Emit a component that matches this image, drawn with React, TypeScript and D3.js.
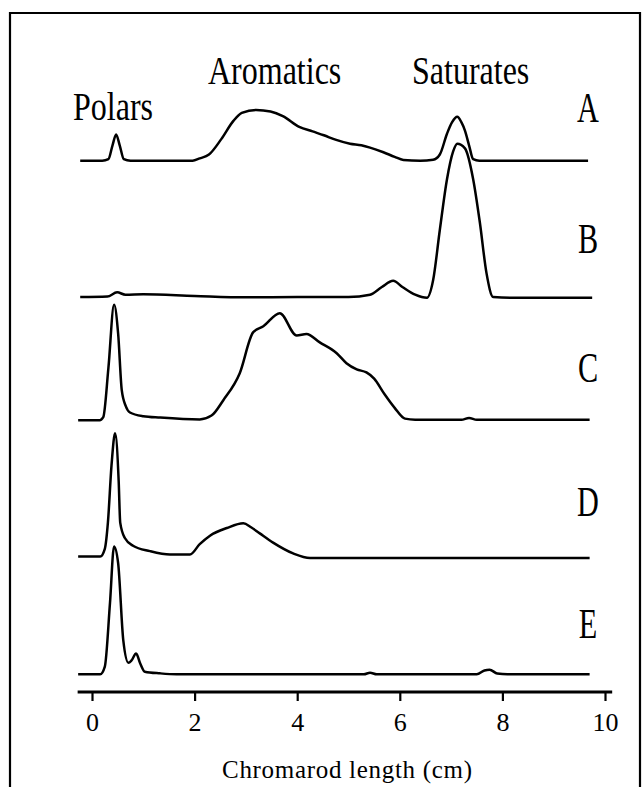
import React, { useEffect, useRef } from 'react';
import * as d3 from 'd3';

// chromarod position (cm), detector response (peak of B = 100)
const traceA: [number, number][] = [
  [-0.23, 0], [0.2, 0], [0.32, 1], [0.4, 10], [0.47, 17], [0.54, 10], [0.62, 1], [0.75, 0],
  [1.96, 0], [2.1, 1.5], [2.28, 4], [2.52, 14], [2.76, 26], [2.92, 31], [3.2, 33], [3.48, 32],
  [3.72, 29], [4.04, 22], [4.3, 19], [4.52, 16.5], [4.76, 13.5], [5.03, 11], [5.25, 10], [5.42, 8.5],
  [5.68, 5.5], [5.9, 2.5], [6.07, 0.5], [6.4, 0], [6.65, 0.6], [6.78, 4], [6.92, 17.5], [7.02, 25],
  [7.12, 28.5], [7.2, 25], [7.27, 19.5], [7.35, 10], [7.43, 1], [7.55, 0], [9.67, 0]
];
const traceB: [number, number][] = [
  [-0.23, 0.5], [0.3, 0.8], [0.49, 3.5], [0.65, 2], [1.0, 2.3], [2.0, 1.2], [3.0, 0.3], [4.0, 0.5],
  [5.0, 0.5], [5.42, 2], [5.65, 7], [5.87, 11], [6.05, 7], [6.3, 2], [6.53, 0], [6.65, 11.5],
  [6.78, 44], [6.92, 77], [7.04, 95], [7.12, 100], [7.27, 97], [7.43, 77], [7.56, 49], [7.69, 16],
  [7.82, 0.5], [8.2, 0], [9.75, 0]
];
const traceC: [number, number][] = [
  [-0.27, 0], [0.15, 0], [0.22, 2], [0.32, 34], [0.43, 75], [0.51, 56], [0.58, 19.5], [0.66, 9],
  [0.74, 5], [1.0, 2.6], [1.33, 1.7], [2.1, 0.5], [2.33, 3], [2.56, 13], [2.88, 30.5], [3.14, 57],
  [3.34, 61], [3.66, 69.5], [3.99, 55], [4.18, 56], [4.44, 50.5], [4.77, 43.5], [4.96, 37],
  [5.16, 33], [5.35, 31], [5.5, 27], [5.7, 17], [5.9, 8], [6.1, 1], [6.3, 0.3], [7.2, 0.3],
  [7.35, 1.5], [7.5, 0.3], [9.7, 0.3]
];
const traceD: [number, number][] = [
  [-0.27, 1], [0.16, 1], [0.25, 6], [0.31, 23], [0.38, 60], [0.45, 81], [0.52, 50], [0.55, 23],
  [0.64, 13], [0.8, 8], [1.13, 4.5], [1.52, 2.3], [1.91, 2.3], [2.1, 9], [2.3, 14.5], [2.63, 19.5],
  [2.95, 22.5], [3.1, 20], [3.27, 16], [3.53, 10], [3.92, 3], [4.25, 0], [9.7, 0]
];
const traceE: [number, number][] = [
  [-0.27, 0], [0.16, 0], [0.25, 5], [0.35, 46], [0.43, 83], [0.51, 72], [0.61, 22], [0.71, 7.5],
  [0.77, 9], [0.86, 13.5], [0.94, 7], [1.03, 1.7], [1.33, 0.6], [1.65, 0], [5.3, 0], [5.42, 1],
  [5.55, 0], [7.5, 0], [7.65, 2.5], [7.75, 3], [7.9, 0.5], [8.1, 0], [9.7, 0]
];

const sampleNames = ['A', 'B', 'C', 'D', 'E'];
const sampleOffsets = [345, 256, 176.5, 87, 11.5];
const traces = [traceA, traceB, traceC, traceD, traceE];
const fractionNames = ['Polars', 'Aromatics', 'Saturates'];
const tickValues = [0, 2, 4, 6, 8, 10];

const SERIF = "'Liberation Serif', 'Times New Roman', serif";

function Chromatogram() {
  const ref = useRef<SVGSVGElement>(null);

  useEffect(() => {
    const height = 787;
    const svg = d3.select(ref.current);
    svg.selectAll('*').remove();

    const x = d3.scaleLinear().domain([0, 10]).range([92, 605]);
    const y = d3.scaleLinear().domain([0, 400]).range([692, 76]);

    // frame
    svg.append('path')
      .attr('d', `M10,${height + 5} V13 H640 V${height + 5}`)
      .attr('fill', 'none')
      .attr('stroke', '#000')
      .attr('stroke-width', 2.2);

    const line = d3.line<[number, number]>()
      .x(d => x(d[0]))
      .curve(d3.curveMonotoneX);

    traces.forEach((t, i) => {
      svg.append('path')
        .datum(t)
        .attr('d', line.y(d => y(sampleOffsets[i] + d[1])))
        .attr('fill', 'none')
        .attr('stroke', '#000')
        .attr('stroke-width', 2.5)
        .attr('stroke-linejoin', 'round');
    });

    // sample letters
    const letterY = [122, 253, 382, 516, 638];
    sampleNames.forEach((n, i) => {
      svg.append('text')
        .attr('transform', `translate(588,${letterY[i]}) scale(0.72,1)`)
        .attr('text-anchor', 'middle')
        .attr('font-family', SERIF)
        .attr('font-size', 42)
        .text(n);
    });

    // fraction labels
    const labelX = [73, 208, 412];
    const labelY = [120, 84, 84];
    fractionNames.forEach((n, i) => {
      svg.append('text')
        .attr('transform', `translate(${labelX[i]},${labelY[i]}) scale(0.8,1)`)
        .attr('font-family', SERIF)
        .attr('font-size', 40)
        .text(n);
    });

    // axis
    const axis = svg.append('g')
      .attr('transform', 'translate(0,692)')
      .call(d3.axisBottom(x).tickValues(tickValues).tickSize(9).tickSizeOuter(0).tickPadding(12));
    axis.attr('font-family', SERIF).attr('font-size', 26);
    axis.select('.domain').remove();
    axis.selectAll('.tick line').attr('stroke', '#000').attr('stroke-width', 2.2);
    axis.selectAll('.tick text').attr('fill', '#000');
    axis.append('line')
      .attr('x1', x(-0.28)).attr('x2', x(10.14))
      .attr('stroke', '#000')
      .attr('stroke-width', 3);

    svg.append('text')
      .attr('x', 347)
      .attr('y', 778)
      .attr('text-anchor', 'middle')
      .attr('font-family', SERIF)
      .attr('font-size', 25)
      .attr('textLength', 250)
      .text('Chromarod length (cm)');
  }, []);

  return (
    <svg ref={ref} width={644} height={787}
      style={{ position: 'absolute', left: 0, top: 0, background: '#fff' }} />
  );
}

export default function App() {
  return <Chromatogram />;
}
